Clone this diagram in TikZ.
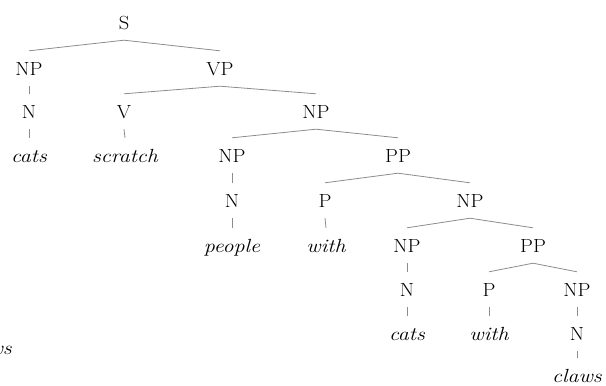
\documentclass[tikz,border=0pt]{standalone}
\usepackage{fontspec}
\setmainfont{Latin Modern Roman}[FakeStretch=1.08]
\newfontfamily\wideit{Latin Modern Roman}[FakeStretch=1.16]
\begin{document}
\begin{tikzpicture}[x=1pt,y=-1pt,
  tn/.style={anchor=base, inner sep=0pt, text height=24pt, text depth=11pt, font=\fontsize{19}{22}\selectfont},
  tw/.style={tn, font=\fontsize{19}{22}\selectfont\wideit\itshape},
  br/.style={draw=black!45, line width=0.8pt}]
\useasboundingbox (0,0) rectangle (606,386);
% row 1
\node[tn] (s) at (124,29) {S};
% row 2
\node[tn] (np1) at (29,75) {NP};
\node[tn] (vp) at (220,75) {VP};
% row 3
\node[tn] (n1) at (29,118) {N};
\node[tn] (v) at (124,118) {V};
\node[tn] (np2) at (316,118) {NP};
% row 4
\node[tw] (w1) at (29,162) {cats};
\node[tw] (w2) at (125,162) {scratch};
\node[tn] (np3) at (232,162) {NP};
\node[tn] (pp1) at (398,162) {PP};
% row 5
\node[tn] (n2) at (232,207) {N};
\node[tn] (p1) at (325,207) {P};
\node[tn] (np4) at (470,207) {NP};
% row 6
\node[tw] (w3) at (232,252) {people};
\node[tw] (w4) at (326,252) {with};
\node[tn] (np5) at (407,252) {NP};
\node[tn] (pp2) at (533,252) {PP};
% row 7
\node[tn] (n3) at (407,296) {N};
\node[tn] (p2) at (489,296) {P};
\node[tn] (np6) at (577,296) {NP};
% row 8
\node[tw] (w5) at (407,340) {cats};
\node[tw] (w6) at (489,340) {with};
\node[tn] (n4) at (577,340) {N};
% row 9
\node[tw] (w7) at (577,382) {claws};
% stray fragment at the left edge
\node[tw, anchor=base east] (frag) at (12,354) {ws};
% branches
\draw[br] (s.south) -- (np1.north);
\draw[br] (s.south) -- (vp.north);
\draw[br] (np1.south) -- (n1.north);
\draw[br] (n1.south) -- (w1.north);
\draw[br] (vp.south) -- (v.north);
\draw[br] (vp.south) -- (np2.north);
\draw[br] (v.south) -- (w2.north);
\draw[br] (np2.south) -- (np3.north);
\draw[br] (np2.south) -- (pp1.north);
\draw[br] (np3.south) -- (n2.north);
\draw[br] (n2.south) -- (w3.north);
\draw[br] (pp1.south) -- (p1.north);
\draw[br] (pp1.south) -- (np4.north);
\draw[br] (p1.south) -- (w4.north);
\draw[br] (np4.south) -- (np5.north);
\draw[br] (np4.south) -- (pp2.north);
\draw[br] (np5.south) -- (n3.north);
\draw[br] (n3.south) -- (w5.north);
\draw[br] (pp2.south) -- (p2.north);
\draw[br] (pp2.south) -- (np6.north);
\draw[br] (p2.south) -- (w6.north);
\draw[br] (np6.south) -- (n4.north);
\draw[br] (n4.south) -- (w7.north);
\end{tikzpicture}
\end{document}
